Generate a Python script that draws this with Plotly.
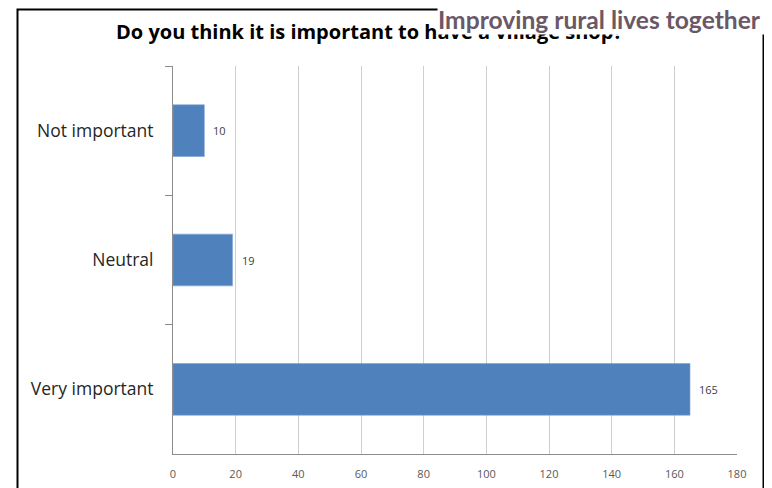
import plotly.graph_objects as go

categories = ["Not important", "Neutral", "Very important"]
values = [10, 19, 165]
x_ticks = [0, 20, 40, 60, 80, 100, 120, 140, 160, 180]

title_text = "Do you think it is important to have a village shop?"
banner_text = "Improving rural lives together"

# page body has an 8px margin; design in window pixels and compensate
OFF = 8
W, H = 772 - OFF, 488 - OFF
L, R, T, B = 173 - OFF, 772 - 737, 66 - OFF, 488 - 454
pw, ph = W - L - R, H - T - B


def px(x):
    return (x - OFF - L) / pw


def py(y):
    return (H - B - (y - OFF)) / ph


fig = go.Figure()
fig.add_trace(go.Bar(
    x=values, y=categories, orientation="h",
    marker=dict(color="#4f81bd", line=dict(color="#7ea3d3", width=0.6)),
    hoverinfo="skip",
))

annotations = []
# title (covered partially by the banner later)
annotations.append(dict(
    text="<b>" + title_text + "</b>", xref="paper", yref="paper",
    x=px(369), y=py(31), xanchor="center", yanchor="middle", showarrow=False,
    font=dict(family="Open Sans", size=20, color="#000000"),
))
# data labels
for c, v in zip(categories, values):
    annotations.append(dict(
        text=str(v), x=v, y=c, xref="x", yref="y", xanchor="left",
        yanchor="middle", xshift=7, showarrow=False,
        font=dict(family="Open Sans", size=11, color="#404040"),
    ))
# banner on top
annotations.append(dict(
    text="<b>" + banner_text + "</b>", xref="paper", yref="paper",
    x=px(437), y=py(0), xanchor="left", yanchor="top", showarrow=False,
    width=332, height=33, bgcolor="#ffffff", borderpad=0, align="left",
    valign="bottom",
    font=dict(family="Lato", size=24.6, color="#6b5866"),
))

fig.update_layout(
    width=W, height=H,
    margin=dict(l=L, r=R, t=T, b=B, autoexpand=False),
    paper_bgcolor="#ffffff", plot_bgcolor="#ffffff",
    showlegend=False, bargap=0.6,
    annotations=annotations,
    shapes=[dict(
        type="rect", xref="paper", yref="paper",
        x0=px(17.5), x1=px(763.5), y0=py(500), y1=py(9.5),
        line=dict(color="#000000", width=2), fillcolor="rgba(0,0,0,0)",
    )],
    xaxis=dict(
        range=[0, 180], tickvals=x_ticks, showgrid=True, gridcolor="#cfcfcf",
        gridwidth=1, showline=True, linecolor="#8c8c8c", linewidth=1,
        zeroline=False, ticks="", ticklabelstandoff=10, automargin=False,
        tickfont=dict(family="Open Sans", size=11, color="#595959"),
        fixedrange=True,
    ),
    yaxis=dict(
        type="category", autorange="reversed", showgrid=False,
        showline=True, linecolor="#8c8c8c", linewidth=1, automargin=False,
        ticks="outside", tickson="boundaries", ticklen=7, tickcolor="#8c8c8c",
        ticklabelstandoff=15,
        tickfont=dict(family="Open Sans", size=17.5, color="#262626"),
        fixedrange=True,
    ),
)

fig.write_html("out.html")
